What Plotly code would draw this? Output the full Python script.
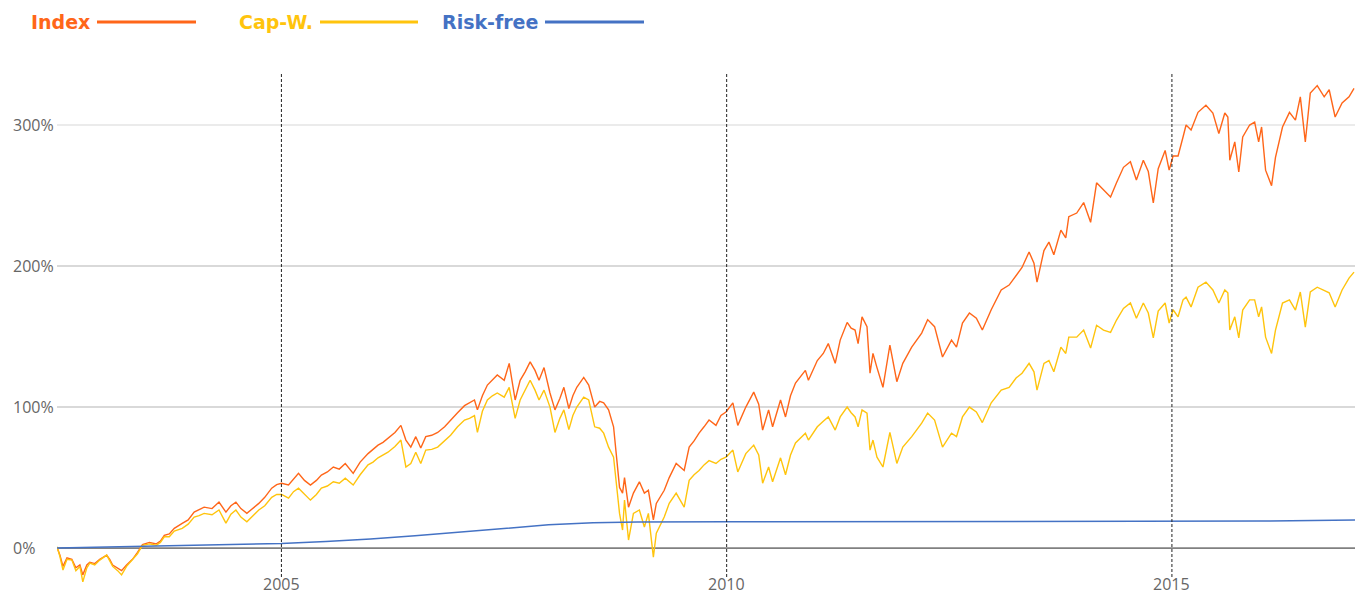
import plotly.graph_objects as go

# ---- data (decimal years, cumulative return in %) ----
years = [2002.480, 2002.513, 2002.547, 2002.592, 2002.647, 2002.692, 2002.737, 2002.770, 2002.815, 2002.848,
         2002.904, 2002.960, 2003.038, 2003.072, 2003.105, 2003.161, 2003.205, 2003.261, 2003.328, 2003.384,
         2003.440, 2003.518, 2003.596, 2003.641, 2003.685, 2003.741, 2003.797, 2003.886, 2003.953, 2004.020,
         2004.076, 2004.132, 2004.221, 2004.299, 2004.377, 2004.433, 2004.489, 2004.545, 2004.612, 2004.679,
         2004.746, 2004.813, 2004.891, 2004.947, 2005.002, 2005.080, 2005.136, 2005.192, 2005.259, 2005.326,
         2005.393, 2005.449, 2005.516, 2005.583, 2005.650, 2005.717, 2005.806, 2005.884, 2005.973, 2006.029,
         2006.085, 2006.141, 2006.197, 2006.275, 2006.342, 2006.398, 2006.453, 2006.509, 2006.565, 2006.621,
         2006.688, 2006.755, 2006.833, 2006.900, 2006.978, 2007.056, 2007.112, 2007.168, 2007.201, 2007.257,
         2007.313, 2007.369, 2007.424, 2007.502, 2007.558, 2007.625, 2007.681, 2007.737, 2007.793, 2007.848,
         2007.893, 2007.949, 2008.016, 2008.072, 2008.127, 2008.172, 2008.228, 2008.273, 2008.317, 2008.395,
         2008.451, 2008.518, 2008.574, 2008.619, 2008.674, 2008.730, 2008.764, 2008.797, 2008.831, 2008.853,
         2008.898, 2008.953, 2009.020, 2009.076, 2009.121, 2009.177, 2009.210, 2009.299, 2009.355, 2009.433,
         2009.523, 2009.579, 2009.634, 2009.690, 2009.746, 2009.802, 2009.880, 2009.936, 2009.992, 2010.047,
         2010.070, 2010.125, 2010.215, 2010.304, 2010.360, 2010.404, 2010.471, 2010.516, 2010.605, 2010.661,
         2010.717, 2010.773, 2010.884, 2010.918, 2011.018, 2011.085, 2011.141, 2011.219, 2011.275, 2011.353,
         2011.398, 2011.442, 2011.476, 2011.520, 2011.576, 2011.610, 2011.643, 2011.688, 2011.755, 2011.833,
         2011.911, 2011.978, 2012.078, 2012.190, 2012.257, 2012.335, 2012.424, 2012.525, 2012.581, 2012.648,
         2012.726, 2012.804, 2012.871, 2012.971, 2013.083, 2013.172, 2013.250, 2013.317, 2013.396, 2013.451,
         2013.485, 2013.563, 2013.619, 2013.674, 2013.753, 2013.808, 2013.842, 2013.931, 2014.009, 2014.087,
         2014.154, 2014.232, 2014.311, 2014.378, 2014.456, 2014.534, 2014.601, 2014.679, 2014.735, 2014.791,
         2014.846, 2014.924, 2014.969, 2015.013, 2015.069, 2015.125, 2015.159, 2015.215, 2015.293, 2015.382,
         2015.460, 2015.527, 2015.594, 2015.628, 2015.650, 2015.706, 2015.751, 2015.795, 2015.873, 2015.929,
         2015.974, 2016.007, 2016.052, 2016.119, 2016.163, 2016.242, 2016.320, 2016.387, 2016.442, 2016.498,
         2016.554, 2016.632, 2016.710, 2016.766, 2016.833, 2016.911, 2016.989, 2017.045]

index_vals = [0.5, -5, -13, -7, -8, -14, -12, -19, -12, -10,
              -11, -8, -5, -8, -12, -14, -16, -12, -8, -3,
              2.5, 4, 3, 5, 9, 10, 14, 17.5, 20, 25.5,
              27, 29, 28, 32.6, 25.5, 30, 32.6, 28, 24.6, 28,
              31.7, 36, 42.5, 45, 46, 44.7, 49, 53, 48, 44.7,
              48, 51.8, 54, 57.5, 56, 60, 53, 61, 67, 70,
              73, 75, 78, 82, 87, 76.6, 71.6, 79, 71, 79,
              80, 82, 86, 90.8, 96, 101, 103, 105, 98, 108,
              115.6, 119, 122.7, 119, 131, 105, 119, 125, 132, 126,
              119, 128, 110, 98, 106, 114, 99, 108, 114, 121,
              115.6, 100, 104, 103, 98, 86, 62, 43, 39, 50,
              29, 39, 47, 39, 41, 20, 31.7, 41, 50, 60,
              55, 71.6, 76, 81.5, 86, 90.8, 87, 94, 96.5, 101,
              103, 87, 100, 110.6, 102, 83.7, 98, 86, 105, 93,
              108, 117, 126, 119, 133, 138, 145, 131, 147.5, 160,
              156, 154.6, 145, 164, 157, 124, 138, 128, 114, 144,
              118, 131, 142.5, 152.5, 162, 157, 135.5, 147.5, 142.5, 159.6,
              166.7, 163, 154.6, 169, 183, 186.5, 193.6, 199, 210, 202,
              188.6, 211, 217, 208, 225.5, 220, 235, 237.6, 245, 231,
              259, 254, 249, 259, 270, 274, 261, 275, 267, 244.7,
              269, 282, 268, 278, 278, 291.5, 300, 296.5, 309, 314,
              308.5, 294, 308.5, 305.7, 275, 288, 266.7, 291.5, 300, 302,
              288, 298.6, 268, 257, 277, 298.6, 309, 303.5, 320, 288,
              322.7, 328, 320, 325, 305.7, 315.6, 320, 326]

capw_vals = [1, -6, -15.6, -8, -8.5, -16, -13, -24, -14, -10.6,
             -12, -8.5, -5, -9, -13, -16, -19, -13, -8.5, -4,
             2, 3, 2, 4, 8, 8, 12, 14, 17, 22,
             23, 24.6, 23.6, 27, 17.7, 24, 27, 22, 18.7, 23,
             27, 30, 36, 38, 38, 35.4, 40, 42.5, 38, 34,
             38, 42.5, 44, 47, 46, 49.6, 44.7, 52, 59, 61,
             64, 66, 68, 72, 76.6, 57.5, 60, 68, 60, 69.5,
             70, 71.6, 76, 80, 86, 90.8, 92, 94, 82, 97,
             105, 108, 110, 107, 114, 92, 105, 112, 119, 112,
             105, 112, 100, 82, 92, 98, 84, 94, 100, 107,
             105, 86, 85, 81.5, 71.6, 64.5, 43, 24.6, 12.8, 34,
             5.7, 24.6, 27, 15, 24.6, -6.4, 10.6, 22, 31.7, 39,
             29, 48, 52, 55, 59, 62, 60, 63, 64.5, 68,
             69.5, 54, 67, 73, 66, 46, 57.5, 47, 64, 52,
             66, 74.5, 81.5, 76.6, 86, 90, 93, 83.7, 93, 100,
             96, 93, 86, 98, 95.7, 69.5, 76.6, 64.5, 57.5, 82,
             60, 71.6, 79, 88.6, 95.7, 90.8, 71.6, 81.5, 79, 93,
             100, 96.5, 89, 103, 112, 114, 120.6, 124, 131, 125,
             112, 131, 133, 125, 142.5, 138, 149.6, 149.6, 154.6, 141.8,
             158, 154.6, 153, 161.7, 170, 173.8, 163, 173.8, 166.7, 149,
             168, 173.8, 159.6, 169, 164, 176, 178, 171, 185, 188.6,
             183, 173.8, 183, 181, 154.6, 164, 149, 168.8, 176, 176,
             164, 171, 149.6, 138, 154.6, 173.8, 176, 168.8, 181.6, 156.7,
             181.6, 185, 183, 181, 171, 183, 191.5, 195.7]

rf_years = [2002.48, 2003.0, 2003.5, 2004.0, 2004.5, 2005.0, 2005.5, 2006.0, 2006.5, 2007.0,
            2007.5, 2008.0, 2008.5, 2009.0, 2010.0, 2012.0, 2014.0, 2015.0, 2016.0, 2017.056]
rf_vals = [0, 0.6, 1.2, 1.8, 2.5, 3.3, 4.7, 6.4, 8.7, 11.3,
           14.0, 16.5, 18.0, 18.5, 18.6, 18.7, 18.8, 18.9, 19.2, 19.9]

series_names = ["Index", "Cap-W.", "Risk-free"]
series_colors = ["#FF6619", "#FFC40D", "#4472C4"]

x_ticks = [2005, 2010, 2015]
y_ticks = [0, 100, 200, 300]
y_tick_labels = ["0%", "100%", "200%", "300%"]

X_RANGE = [2002.48, 2017.056]
Y_RANGE = [-27.6, 337.6]

fig = go.Figure()
fig.add_trace(go.Scatter(x=years, y=index_vals, mode="lines", name=series_names[0],
                         line=dict(color=series_colors[0], width=1.4)))
fig.add_trace(go.Scatter(x=years, y=capw_vals, mode="lines", name=series_names[1],
                         line=dict(color=series_colors[1], width=1.4)))
fig.add_trace(go.Scatter(x=rf_years, y=rf_vals, mode="lines", name=series_names[2],
                         line=dict(color=series_colors[2], width=1.5)))

shapes = []
# horizontal gridlines
grid_colors = {0: "#808080", 100: "#cccccc", 200: "#cccccc", 300: "#e4e4e4"}
for v in y_ticks:
    shapes.append(dict(type="line", xref="paper", yref="y", x0=0, x1=1, y0=v, y1=v,
                       line=dict(color=grid_colors[v], width=1.6), layer="below"))
# dashed vertical year lines
for t in x_ticks:
    shapes.append(dict(type="line", xref="x", yref="paper", x0=t, x1=t, y0=0.0194, y1=1,
                       line=dict(color="#222222", width=1, dash="3px,2px"), layer="above"))

annotations = []
tick_font = dict(family="Open Sans", size=16, color="#666666")
for v, lab in zip(y_ticks, y_tick_labels):
    annotations.append(dict(x=-0.0354, xref="paper", y=v, yref="y", text=lab, showarrow=False,
                            xanchor="left", yanchor="middle", font=tick_font))
for t in x_ticks:
    annotations.append(dict(x=t, xref="x", y=-0.0175, yref="paper", text=str(t), showarrow=False,
                            xanchor="center", yanchor="bottom", borderpad=0, font=tick_font))

# custom legend: text then line
leg_text_right = [0.02696, 0.19877, 0.37211]
leg_line = [(0.03082, 0.10709), (0.20262, 0.27812), (0.37596, 0.45223)]
leg_y = 1.0971
for name, col, xr, (l0, l1) in zip(series_names, series_colors, leg_text_right, leg_line):
    annotations.append(dict(x=xr, xref="paper", y=leg_y, yref="paper", text="<b>%s</b>" % name,
                            showarrow=False, xanchor="right", yanchor="middle",
                            font=dict(family="DejaVu Sans", size=19, color=col)))
    shapes.append(dict(type="line", xref="paper", yref="paper", x0=l0, x1=l1, y0=leg_y, y1=leg_y,
                       line=dict(color=col, width=3)))

fig.update_layout(
    width=1347, height=589,
    margin=dict(l=49, r=0, t=64, b=10),
    paper_bgcolor="white", plot_bgcolor="white",
    showlegend=False,
    shapes=shapes, annotations=annotations,
    xaxis=dict(range=X_RANGE, tickvals=x_ticks, showticklabels=False,
               showgrid=False, zeroline=False, showline=False, ticks="", automargin=False),
    yaxis=dict(range=Y_RANGE, tickvals=y_ticks, showticklabels=False, showgrid=False,
               zeroline=False, showline=False, ticks="", automargin=False),
)

fig.write_html("out.html")
